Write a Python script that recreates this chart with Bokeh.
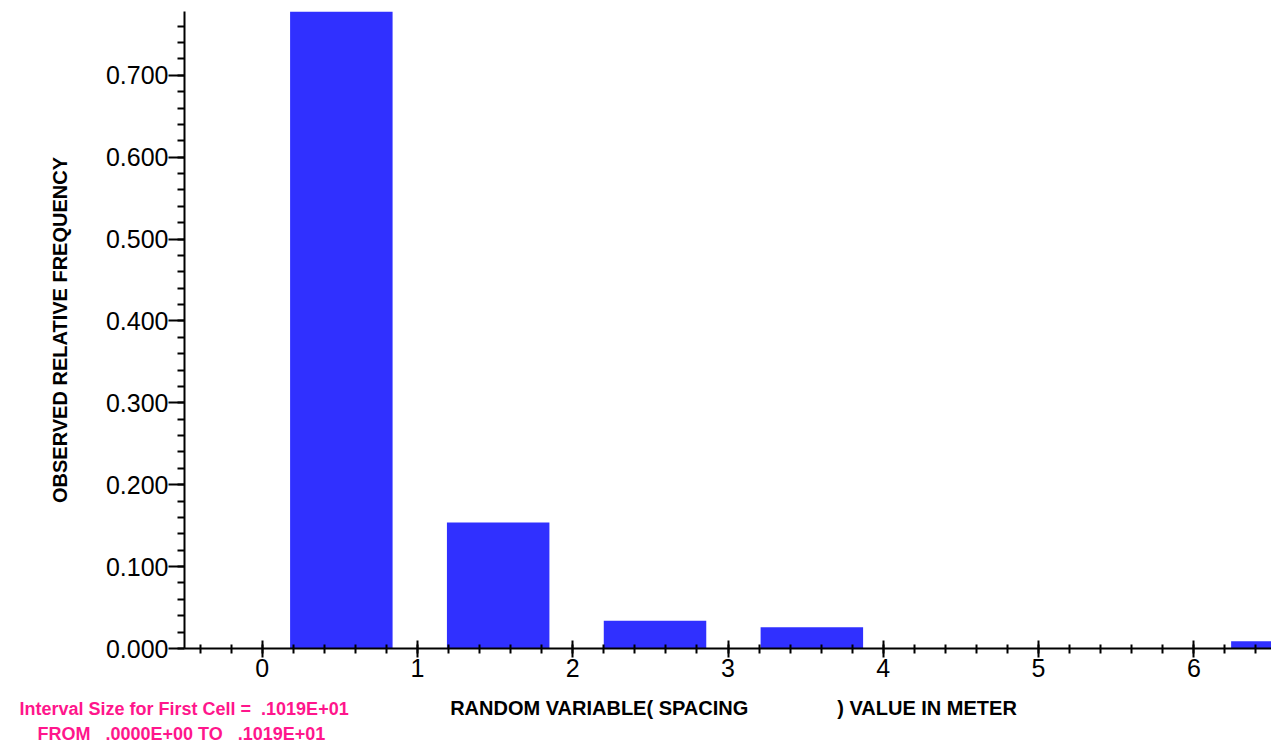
from bokeh.plotting import figure
from bokeh.models import Range1d, FixedTicker, PrintfTickFormatter, Label
from bokeh.embed import file_html
from bokeh.resources import INLINE
import numpy as np

# Histogram of spacing values: cell centres (m) and observed relative frequencies
cell_centers = [0.51, 1.52, 2.53, 3.54, 4.55, 5.56, 6.57]
rel_freq = [0.778, 0.154, 0.034, 0.026, 0.0, 0.0, 0.009]
bar_width = 0.66

x_major = [0, 1, 2, 3, 4, 5, 6]
y_major = [0.0, 0.1, 0.2, 0.3, 0.4, 0.5, 0.6, 0.7]

x_title = "RANDOM VARIABLE( SPACING" + "\u00a0" * 16 + ") VALUE IN METER"
y_title = "OBSERVED RELATIVE FREQUENCY"
note_lines = [
    "Interval Size for First Cell =\u00a0 .1019E+01",
    "FROM\u00a0\u00a0 .0000E+00 TO\u00a0\u00a0 .1019E+01",
]

FONT = "Liberation Sans"
BAR_COLOR = "#3030FF"
NOTE_COLOR = "#FF168C"

p = figure(
    width=1271, height=745,
    x_range=Range1d(-0.5, 6.5),
    y_range=Range1d(0, max(rel_freq)),
    output_backend="svg", toolbar_location=None,
    min_border_left=184, min_border_right=0,
    min_border_top=11, min_border_bottom=97,
)
p.outline_line_color = None
p.grid.visible = False
p.background_fill_color = "white"
p.border_fill_color = "white"

p.vbar(x=cell_centers, top=rel_freq, width=bar_width, bottom=0,
       fill_color=BAR_COLOR, line_color=None)

# x axis: integer majors, minors every 0.2, ticks crossing the axis
x_minor = [round(v, 1) for v in np.arange(-0.4, 6.5, 0.2)]
p.xaxis.ticker = FixedTicker(ticks=x_major, minor_ticks=x_minor)
p.xaxis.major_tick_in = 8
p.xaxis.major_tick_out = 9
p.xaxis.minor_tick_in = 4
p.xaxis.minor_tick_out = 5
p.xaxis.major_label_standoff = 1

# y axis: majors every 0.1 formatted with three decimals, minors every 0.02
y_minor = [round(v, 2) for v in np.arange(0.0, 0.78, 0.02)]
p.yaxis.ticker = FixedTicker(ticks=y_major, minor_ticks=y_minor)
p.yaxis.formatter = PrintfTickFormatter(format="%.3f")
p.yaxis.major_tick_in = 0
p.yaxis.major_tick_out = 16
p.yaxis.minor_tick_in = 0
p.yaxis.minor_tick_out = 7
p.yaxis.major_label_standoff = 0
p.yaxis.axis_label = y_title
p.yaxis.axis_label_standoff = 32
p.yaxis.axis_label_text_font = FONT
p.yaxis.axis_label_text_font_size = "20px"
p.yaxis.axis_label_text_font_style = "bold"
p.yaxis.axis_label_text_color = "black"

for ax in (p.xaxis, p.yaxis):
    ax.axis_line_width = 2
    ax.axis_line_color = "black"
    ax.major_tick_line_width = 2
    ax.minor_tick_line_width = 2
    ax.major_tick_line_color = "black"
    ax.minor_tick_line_color = "black"
    ax.major_label_text_font = FONT
    ax.major_label_text_font_size = "25px"
    ax.major_label_text_color = "black"

# texts under the x axis, placed in canvas pixels (y down from the top edge);
# they live in the bottom side panel so they are not clipped to the plot frame
p.add_layout(Label(x=733, y=707, x_units="canvas", y_units="canvas",
                   text=x_title, text_font=FONT, text_font_size="20px",
                   text_font_style="bold", text_color="black",
                   text_align="center", text_baseline="middle"), "below")

note_style = dict(text_font=FONT, text_font_size="18px", text_font_style="bold",
                  text_color=NOTE_COLOR, text_align="left", text_baseline="middle",
                  x_units="canvas", y_units="canvas")
for line, (x0, y0) in zip(note_lines, [(19, 708), (37, 733)]):
    p.add_layout(Label(x=x0, y=y0, text=line, **note_style), "below")

open("out.html", "w").write(file_html(p, INLINE))
